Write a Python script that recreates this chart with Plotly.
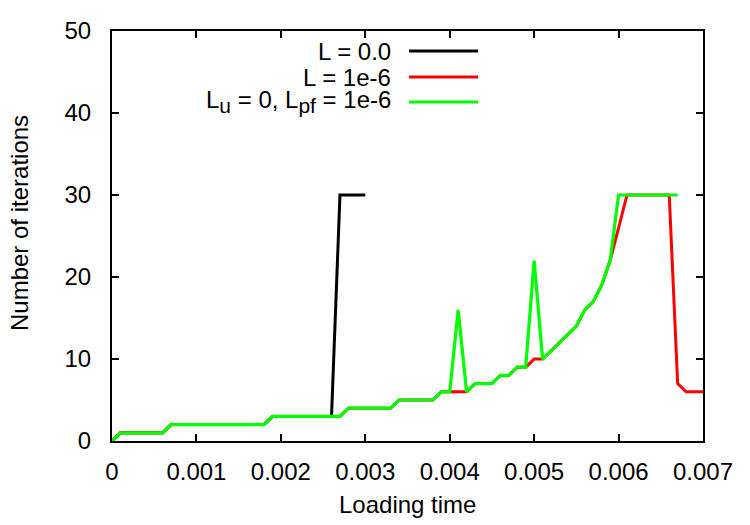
import plotly.graph_objects as go

# Loading time values (every 1e-4)
time = [0.0, 0.0001, 0.0002, 0.0003, 0.0004, 0.0005, 0.0006, 0.0007, 0.0008, 0.0009,
        0.0010, 0.0011, 0.0012, 0.0013, 0.0014, 0.0015, 0.0016, 0.0017, 0.0018, 0.0019,
        0.0020, 0.0021, 0.0022, 0.0023, 0.0024, 0.0025, 0.0026, 0.0027, 0.0028, 0.0029,
        0.0030, 0.0031, 0.0032, 0.0033, 0.0034, 0.0035, 0.0036, 0.0037, 0.0038, 0.0039,
        0.0040, 0.0041, 0.0042, 0.0043, 0.0044, 0.0045, 0.0046, 0.0047, 0.0048, 0.0049,
        0.0050, 0.0051, 0.0052, 0.0053, 0.0054, 0.0055, 0.0056, 0.0057, 0.0058, 0.0059,
        0.0060, 0.0061, 0.0062, 0.0063, 0.0064, 0.0065, 0.0066, 0.0067, 0.0068, 0.0069,
        0.0070]

# L = 0.0 (ends at 0.003)
time_black = time[:31]
iters_black = [0, 1, 1, 1, 1, 1, 1, 2, 2, 2,
               2, 2, 2, 2, 2, 2, 2, 2, 2, 3,
               3, 3, 3, 3, 3, 3, 3, 30, 30, 30,
               30]

# L = 1e-6
iters_red = [0, 1, 1, 1, 1, 1, 1, 2, 2, 2,
             2, 2, 2, 2, 2, 2, 2, 2, 2, 3,
             3, 3, 3, 3, 3, 3, 3, 3, 4, 4,
             4, 4, 4, 4, 5, 5, 5, 5, 5, 6,
             6, 6, 6, 7, 7, 7, 8, 8, 9, 9,
             10, 10, 11, 12, 13, 14, 16, 17, 19, 22,
             26, 30, 30, 30, 30, 30, 30, 7, 6, 6,
             6]

# L_u = 0, L_pf = 1e-6 (ends at 0.0067)
time_green = time[:68]
iters_green = [0, 1, 1, 1, 1, 1, 1, 2, 2, 2,
               2, 2, 2, 2, 2, 2, 2, 2, 2, 3,
               3, 3, 3, 3, 3, 3, 3, 3, 4, 4,
               4, 4, 4, 4, 5, 5, 5, 5, 5, 6,
               6, 16, 6, 7, 7, 7, 8, 8, 9, 9,
               22, 10, 11, 12, 13, 14, 16, 17, 19, 22,
               30, 30, 30, 30, 30, 30, 30, 30]

x_ticks = [0, 0.001, 0.002, 0.003, 0.004, 0.005, 0.006, 0.007]
x_ticktext = ["0", "0.001", "0.002", "0.003", "0.004", "0.005", "0.006", "0.007"]
y_ticks = [0, 10, 20, 30, 40, 50]

labels = ["L = 0.0", "L = 1e-6",
          "L<sub><span style='font-size:21px'>u</span></sub> = 0, "
          "L<sub><span style='font-size:21px'>pf</span></sub> = 1e-6"]
colors = ["#000000", "#ff0000", "#00ff00"]

fig = go.Figure()
fig.add_trace(go.Scatter(x=time_black, y=iters_black, mode="lines",
                         line=dict(color=colors[0], width=3), name=labels[0]))
fig.add_trace(go.Scatter(x=time, y=iters_red, mode="lines",
                         line=dict(color=colors[1], width=3), name=labels[1]))
fig.add_trace(go.Scatter(x=time_green, y=iters_green, mode="lines",
                         line=dict(color=colors[2], width=3.2), name=labels[2]))

font_family = "Liberation Sans, Arial, sans-serif"

L, R, T, B = 112, 703, 31, 441


def px_x(p):
    return (p - L) / (R - L)


def px_y(p):
    return 1 - (p - T) / (B - T)


# Manual legend: right-aligned text with line sample on the right
legend_rows_y = [51, 77, 102]
for lab, col, py in zip(labels, colors, legend_rows_y):
    fig.add_annotation(xref="paper", yref="paper", x=px_x(393), y=px_y(py),
                       text=lab, showarrow=False, xanchor="right", yanchor="middle",
                       font=dict(size=24, color="black", family=font_family))
    fig.add_shape(type="line", xref="paper", yref="paper",
                  x0=px_x(409), x1=px_x(478), y0=px_y(py), y1=px_y(py),
                  line=dict(color=col, width=3))

# Axis titles
fig.add_annotation(xref="paper", yref="paper", x=px_x(19), y=px_y(223),
                   text="Number of iterations", showarrow=False, textangle=-90,
                   xanchor="center", yanchor="middle",
                   font=dict(size=24, color="black", family=font_family))
fig.add_annotation(xref="paper", yref="paper", x=px_x(407), y=px_y(505),
                   text="Loading time", showarrow=False,
                   xanchor="center", yanchor="middle",
                   font=dict(size=24, color="black", family=font_family))

axis_common = dict(showline=True, linecolor="black", linewidth=2, mirror="ticks",
                   ticks="inside", ticklen=7, tickwidth=1.5, tickcolor="black",
                   showgrid=False, zeroline=False, automargin=False,
                   tickfont=dict(size=24, color="black", family=font_family))

fig.update_layout(
    width=750, height=525,
    margin=dict(l=L, r=750 - R, t=T, b=525 - B),
    plot_bgcolor="white", paper_bgcolor="white",
    showlegend=False,
    font=dict(family=font_family, color="black"),
    xaxis=dict(range=[0, 0.007], tickvals=x_ticks, ticktext=x_ticktext,
               ticklabelstandoff=8, **axis_common),
    yaxis=dict(range=[0, 50], tickvals=y_ticks, ticklabelstandoff=14,
               **axis_common),
)

fig.write_html("out.html")
